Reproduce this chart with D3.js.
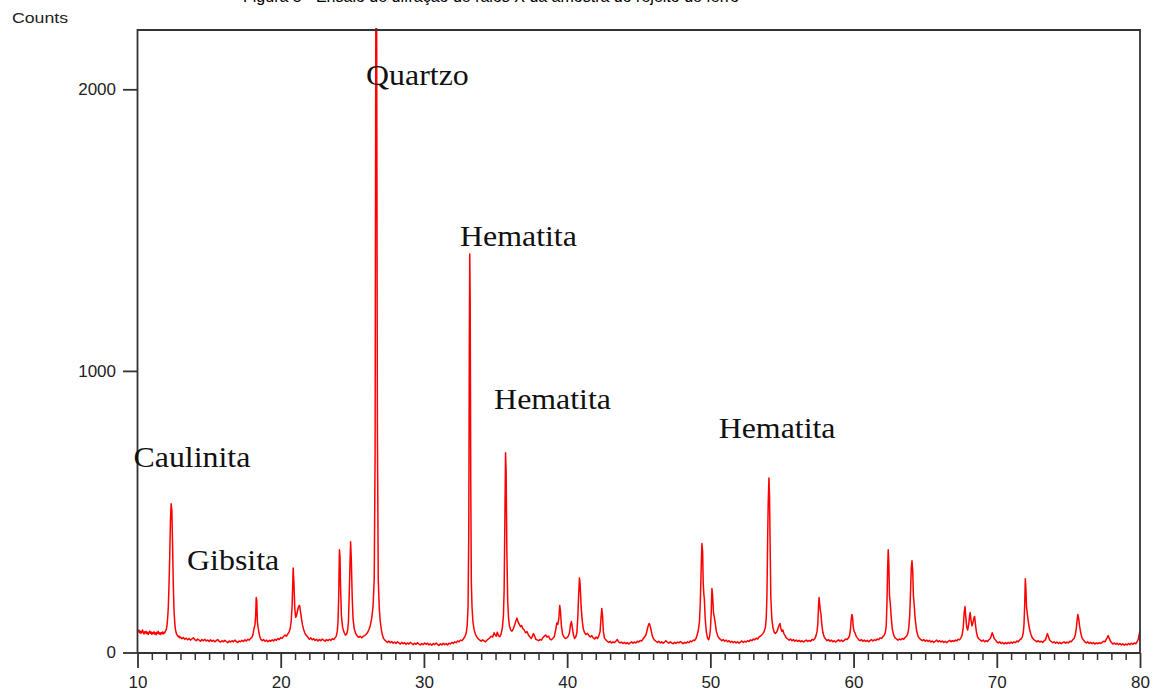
<!DOCTYPE html>
<html><head><meta charset="utf-8">
<script src="https://cdn.jsdelivr.net/npm/d3@7"></script>
<style>html,body{margin:0;padding:0;background:#fff;} svg{display:block;}</style>
</head><body>
<svg id="chart" width="1155" height="693"></svg>
<script>
// ---- data ----
const xTicks = [10, 20, 30, 40, 50, 60, 70, 80];
const yTicks = [0, 1000, 2000];
const yLabel = "Counts";
const caption = "Figura 5 - Ensaio de difração de raios X da amostra do rejeito de ferro";
const phaseLabels = ["Quartzo", "Hematita", "Hematita", "Hematita", "Caulinita", "Gibsita"];
const labelAngles = [25.96, 32.52, 34.90, 50.58, 9.72, 13.46];
const labelCounts = [2016, 1445, 865, 760, 659, 293];

// 2-theta (deg), counts
const scan = [
[10.00,82],[10.05,74],[10.10,79],[10.15,70],[10.20,76],[10.25,68],[10.30,73],[10.35,80],[10.40,71],[10.45,66],[10.50,74],[10.55,69],[10.60,75],[10.65,67],[10.70,72],[10.75,64],[10.80,70],[10.85,76],[10.90,68],[10.95,73],[11.00,65],[11.05,71],[11.10,67],[11.15,74],[11.20,66],[11.25,70],[11.30,63],[11.35,72],[11.40,68],[11.45,75],[11.50,66],[11.55,70],[11.60,64],[11.65,71],[11.70,67],[11.75,73],[11.80,66],[11.85,72],[11.90,69],[11.95,76],
[12.00,80],[12.05,92],[12.10,118],[12.15,160],[12.20,240],[12.25,340],[12.30,470],[12.35,528],[12.40,505],[12.45,380],[12.50,240],[12.55,150],[12.60,105],[12.65,82],[12.70,70],[12.75,63],[12.80,60],[12.85,56],[12.90,58],[12.95,52],
[13.0,55],[13.1,49],[13.2,53],[13.3,47],[13.4,51],[13.5,45],[13.6,50],[13.7,44],[13.8,48],[13.9,52],[14.0,46],[14.1,42],[14.2,48],[14.3,44],[14.4,40],[14.5,46],[14.6,42],[14.7,47],[14.8,41],[14.9,44],[15.0,39],[15.1,45],[15.2,40],[15.3,43],[15.4,38],[15.5,42],[15.6,46],[15.7,40],[15.8,37],[15.9,42],[16.0,38],[16.1,43],[16.2,39],[16.3,35],[16.4,41],[16.5,37],[16.6,42],[16.7,38],[16.8,44],[16.9,39],[17.0,36],[17.1,41],[17.2,38],[17.3,43],[17.4,39],[17.5,45],[17.6,41],[17.7,47],[17.8,44],[17.9,50],
[18.00,55],[18.05,62],[18.10,75],[18.15,88],[18.20,98],[18.25,130],[18.29,195],[18.33,185],[18.37,110],[18.42,90],[18.48,70],[18.55,55],[18.60,48],
[18.7,42],[18.8,46],[18.9,40],[19.0,44],[19.1,38],[19.2,43],[19.3,40],[19.4,45],[19.5,41],[19.6,47],[19.7,43],[19.8,50],[19.9,46],[20.0,53],[20.1,50],[20.2,57],[20.3,62],[20.4,58],[20.5,66],
[20.58,72],[20.66,85],[20.73,110],[20.80,170],[20.87,300],[20.92,250],[20.98,160],[21.04,125],[21.10,130],[21.18,150],[21.26,165],[21.32,167],[21.38,145],[21.45,120],[21.52,98],[21.60,82],[21.68,70],[21.77,62],[21.87,56],[21.95,50],
[22.0,47],[22.1,52],[22.2,45],[22.3,49],[22.4,43],[22.5,47],[22.6,41],[22.7,46],[22.8,42],[22.9,48],[23.0,44],[23.1,40],[23.2,46],[23.3,42],[23.4,47],[23.5,43],[23.6,49],[23.7,46],[23.8,52],
[23.88,58],[23.95,75],[24.00,110],[24.05,200],[24.10,365],[24.14,340],[24.18,230],[24.24,130],[24.32,90],[24.42,72],[24.52,62],[24.60,65],[24.67,78],[24.73,110],[24.78,200],[24.83,300],[24.88,393],[24.93,330],[24.99,200],[25.05,120],[25.13,85],[25.23,68],[25.35,58],[25.45,54],[25.55,58],[25.65,52],[25.75,57],[25.85,60],[25.95,64],[26.05,70],[26.15,80],[26.25,95],[26.35,120],[26.45,165],[26.53,260],[26.59,700],[26.64,2215],[26.70,2215],[26.75,800],[26.81,260],[26.88,160],[26.95,110],[27.03,80],[27.10,62],[27.18,50],[27.27,44],[27.36,40],
[27.45,36],[27.55,41],[27.65,35],[27.75,39],[27.85,33],[27.95,37],[28.05,32],[28.15,38],[28.25,34],[28.35,30],[28.45,36],[28.55,31],[28.65,35],[28.75,29],[28.85,34],[28.95,30],[29.05,36],[29.15,32],[29.25,28],[29.35,33],[29.45,29],[29.55,35],[29.65,30],[29.75,27],[29.85,32],[29.95,28],[30.05,34],[30.15,29],[30.25,33],[30.35,27],[30.45,31],[30.55,26],[30.65,32],[30.75,28],[30.85,34],[30.95,29],[31.05,25],[31.15,31],[31.25,27],[31.35,33],[31.45,28],[31.55,32],[31.65,27],[31.75,33],[31.85,30],[31.95,36],[32.05,32],[32.15,38],[32.25,35],[32.35,41],[32.45,38],[32.55,44],[32.65,42],
[32.75,48],[32.85,55],[32.95,68],[33.02,95],[33.08,160],[33.13,420],[33.17,1100],[33.20,1415],[33.23,1250],[33.27,600],[33.31,250],[33.36,160],[33.42,110],[33.50,82],[33.60,64],[33.70,55],[33.80,48],[33.90,44],[34.00,40],[34.10,45],[34.20,41],[34.30,38],[34.40,44],[34.50,48],[34.60,52],[34.70,58],[34.80,55],[34.90,70],[34.98,62],[35.05,58],[35.12,72],[35.20,60],[35.30,56],[35.40,68],[35.48,90],[35.55,130],[35.60,220],[35.65,460],[35.70,709],[35.74,640],[35.79,360],[35.85,180],[35.91,120],[35.98,92],[36.06,80],[36.15,76],[36.25,85],[36.35,100],[36.42,112],[36.50,122],[36.58,108],[36.66,100],[36.74,92],[36.82,96],[36.90,85],[37.00,80],[37.10,70],[37.20,74],[37.30,62],[37.40,55],[37.50,50],[37.58,58],[37.65,67],[37.72,60],[37.80,48],[37.90,45],[38.00,42],[38.10,46],[38.20,44],[38.30,52],[38.40,58],[38.50,62],[38.60,55],[38.70,58],[38.80,48],[38.90,45],[39.00,50],[39.10,56],[39.20,80],[39.28,105],[39.35,100],[39.42,120],[39.48,167],[39.53,150],[39.60,95],[39.68,65],[39.78,55],[39.88,50],[39.98,52],[40.08,58],[40.16,70],[40.24,100],[40.30,110],[40.36,90],[40.44,62],[40.52,50],[40.60,55],[40.68,70],[40.74,120],[40.80,200],[40.86,265],[40.91,240],[40.97,170],[41.04,120],[41.12,85],[41.22,70],[41.32,64],[41.42,68],[41.52,60],[41.62,55],[41.72,60],[41.82,52],[41.92,48],[42.02,55],[42.12,50],[42.22,60],[42.30,75],[42.36,120],[42.42,156],[42.47,130],[42.53,75],[42.60,52],[42.70,45],[42.80,40],
[42.9,36],[43.0,40],[43.1,34],[43.2,38],[43.3,35],[43.4,40],[43.5,46],[43.6,38],[43.7,34],[43.8,37],[43.9,32],[44.0,36],[44.1,31],[44.2,35],[44.3,30],[44.4,34],[44.5,38],[44.6,33],[44.7,37],[44.8,34],[44.9,40],[45.0,37],[45.1,43],[45.2,41],[45.3,48],[45.4,55],[45.5,62],[45.58,78],[45.66,95],[45.72,103],[45.78,98],[45.86,80],[45.94,60],[46.02,50],[46.10,44],[46.2,40],
[46.3,36],[46.4,40],[46.5,34],[46.6,38],[46.7,33],[46.8,37],[46.9,42],[47.0,36],[47.1,33],[47.2,38],[47.3,34],[47.4,31],[47.5,36],[47.6,32],[47.7,37],[47.8,34],[47.9,39],[48.0,35],[48.1,31],[48.2,36],[48.3,33],[48.4,38],[48.5,35],[48.6,41],[48.7,38],[48.8,44],[48.9,42],[49.0,50],
[49.08,62],[49.16,80],[49.24,110],[49.30,180],[49.36,300],[49.41,387],[49.46,360],[49.50,250],[49.54,210],[49.58,190],[49.64,120],[49.72,72],[49.80,52],[49.88,45],[49.94,55],[50.00,80],[50.06,140],[50.11,227],[50.16,200],[50.22,140],[50.28,125],[50.34,105],[50.42,75],[50.52,58],[50.62,50],[50.72,46],
[50.8,42],[50.9,46],[51.0,40],[51.1,44],[51.2,38],[51.3,42],[51.4,36],[51.5,40],[51.6,35],[51.7,39],[51.8,34],[51.9,38],[52.0,33],[52.1,37],[52.2,41],[52.3,36],[52.4,40],[52.5,37],[52.6,42],[52.7,39],[52.8,45],[52.9,42],[53.0,48],[53.1,45],[53.2,51],[53.3,48],[53.4,55],[53.5,58],[53.6,63],
[53.68,68],[53.76,75],[53.84,89],[53.90,120],[53.95,200],[54.00,400],[54.04,532],[54.09,620],[54.13,560],[54.17,400],[54.22,200],[54.29,120],[54.37,88],[54.46,72],[54.54,68],[54.62,72],[54.70,82],[54.78,95],[54.86,103],[54.92,85],[55.00,75],[55.06,80],[55.14,66],[55.22,60],[55.30,52],
[55.4,48],[55.5,44],[55.6,48],[55.7,42],[55.8,46],[55.9,40],[56.0,44],[56.1,39],[56.2,43],[56.3,38],[56.4,42],[56.5,37],[56.6,41],[56.7,44],[56.8,39],[56.9,43],[57.0,40],[57.1,46],[57.2,44],[57.3,50],
[57.38,60],[57.45,75],[57.50,100],[57.55,160],[57.59,195],[57.63,175],[57.68,150],[57.72,138],[57.78,100],[57.86,70],[57.95,55],[58.05,48],
[58.15,42],[58.25,46],[58.35,40],[58.45,44],[58.55,38],[58.65,42],[58.75,37],[58.85,41],[58.95,45],[59.05,40],[59.15,44],[59.25,39],[59.35,43],[59.45,48],[59.55,46],[59.65,52],
[59.72,60],[59.78,80],[59.83,115],[59.88,135],[59.93,125],[59.98,90],[60.04,75],[60.10,70],[60.18,58],[60.26,52],[60.35,46],
[60.45,42],[60.55,46],[60.65,40],[60.75,44],[60.85,39],[60.95,43],[61.05,38],[61.15,42],[61.25,46],[61.35,41],[61.45,45],[61.55,43],[61.65,48],[61.75,45],[61.85,52],[61.95,50],[62.05,56],[62.15,62],
[62.22,72],[62.28,95],[62.33,170],[62.38,300],[62.42,365],[62.46,320],[62.51,200],[62.56,177],[62.62,130],[62.70,85],[62.80,62],[62.90,52],[63.00,48],
[63.1,44],[63.2,48],[63.3,45],[63.4,50],[63.5,47],[63.6,53],[63.7,58],
[63.78,66],[63.85,85],[63.92,130],[63.98,220],[64.03,300],[64.08,326],[64.13,290],[64.18,200],[64.22,177],[64.30,120],[64.40,78],[64.50,58],[64.60,50],
[64.7,46],[64.8,42],[64.9,46],[65.0,40],[65.1,44],[65.2,39],[65.3,43],[65.4,37],[65.5,41],[65.6,36],[65.7,40],[65.8,44],[65.9,38],[66.0,42],[66.1,37],[66.2,41],[66.3,36],[66.4,40],[66.5,35],[66.6,39],[66.7,43],[66.8,38],[66.9,42],[67.0,39],[67.1,44],[67.2,41],[67.3,47],[67.4,45],[67.5,52],
[67.58,62],[67.66,90],[67.72,140],[67.78,163],[67.83,130],[67.90,90],[67.97,80],[68.04,100],[68.10,130],[68.14,142],[68.20,115],[68.27,95],[68.33,105],[68.40,122],[68.45,128],[68.51,100],[68.58,72],[68.66,55],[68.76,48],[68.86,44],
[68.95,40],[69.05,44],[69.15,38],[69.25,42],[69.35,39],[69.45,45],[69.55,50],[69.62,60],[69.68,70],[69.74,62],[69.82,50],[69.92,44],
[70.0,38],[70.1,34],[70.2,38],[70.3,32],[70.4,36],[70.5,30],[70.6,35],[70.7,31],[70.8,36],[70.9,32],[71.0,37],[71.1,33],[71.2,38],[71.3,35],[71.4,41],[71.5,38],[71.6,45],[71.7,48],
[71.78,55],[71.85,70],[71.90,100],[71.95,170],[71.99,262],[72.03,230],[72.08,160],[72.13,138],[72.20,110],[72.28,85],[72.38,65],[72.48,52],[72.58,46],
[72.7,42],[72.8,38],[72.9,42],[73.0,37],[73.1,40],[73.2,36],[73.3,41],[73.4,45],[73.46,55],[73.53,67],[73.60,58],[73.68,45],[73.78,40],
[73.9,35],[74.0,38],[74.1,33],[74.2,37],[74.3,32],[74.4,36],[74.5,31],[74.6,35],[74.7,38],[74.8,33],[74.9,37],[75.0,34],[75.1,40],[75.2,38],[75.3,45],[75.4,50],
[75.48,62],[75.55,85],[75.61,115],[75.66,135],[75.72,120],[75.78,95],[75.86,70],[75.95,52],[76.05,44],
[76.15,38],[76.25,34],[76.35,38],[76.45,32],[76.55,36],[76.65,31],[76.75,35],[76.85,30],[76.95,34],[77.05,31],[77.15,35],[77.25,32],[77.35,36],[77.45,40],[77.55,38],
[77.62,45],[77.70,52],[77.78,60],[77.85,50],[77.94,40],[78.04,34],
[78.1,30],[78.2,34],[78.3,29],[78.4,33],[78.5,28],[78.6,32],[78.7,27],[78.8,31],[78.9,26],[79.0,30],[79.1,27],[79.2,32],[79.3,28],[79.4,33],[79.5,29],[79.6,34],[79.7,31],[79.8,38],[79.88,48],[79.95,65],[80.0,78]
];

// ---- drawing ----
const svg = d3.select("#chart");
svg.append("rect").attr("width",1155).attr("height",693).attr("fill","#fff");

const plotLeft = 137.5, plotRight = 1140, plotTop = 30, plotBottom = 652.5;
const x = d3.scaleLinear().domain([10, 80]).range([plotLeft, plotRight]);
const y = d3.scaleLinear().domain([0, 2000]).range([plotBottom, 89.3]);

const axisColor = "#333";
const sans = "Arial, 'Liberation Sans', Helvetica, sans-serif";
const serif = "'Times New Roman', 'Liberation Serif', Times, serif";

// caption (cut off at top of the page)
svg.append("text").attr("x", 243).attr("y", 1.5)
  .attr("font-family", sans).attr("font-size", 16).attr("fill", "#000")
  .text(caption);

// y label
svg.append("text").attr("transform", "translate(12,22.5) scale(1.18,1)")
  .attr("font-family", sans).attr("font-size", 15).attr("fill", "#222")
  .text(yLabel);

// data line
svg.append("clipPath").attr("id","clip").append("rect")
  .attr("x", plotLeft).attr("y", 26).attr("width", plotRight-plotLeft).attr("height", plotBottom-26+1);
const line = d3.line().x(d => x(d[0])).y(d => y(d[1]));
svg.append("path").datum(scan)
  .attr("clip-path","url(#clip)")
  .attr("d", line).attr("fill","none")
  .attr("stroke","#ff0000").attr("stroke-width",1.5).attr("stroke-linejoin","round");

// frame
svg.append("path")
  .attr("d", `M${plotLeft},${plotBottom+0.5}V${plotTop}H${plotRight}V${plotBottom+0.5}H${plotLeft}`)
  .attr("fill","none").attr("stroke",axisColor).attr("stroke-width",1.8);

// x minor ticks
const minor = d3.range(10, 81, 1).filter(v => !xTicks.includes(v));
const gxm = svg.append("g").attr("transform", `translate(0,${plotBottom+0.5})`)
  .call(d3.axisBottom(x).tickValues(minor).tickSize(7).tickSizeOuter(0).tickFormat(""));
gxm.select(".domain").remove();
gxm.selectAll("line").attr("stroke", axisColor).attr("stroke-width", 1.5);

// x major ticks
const gx = svg.append("g").attr("transform", `translate(0,${plotBottom+0.5})`)
  .call(d3.axisBottom(x).tickValues(xTicks).tickSize(15).tickSizeOuter(0).tickPadding(8).tickFormat(d3.format("d")));
gx.select(".domain").remove();
gx.selectAll("line").attr("stroke", axisColor).attr("stroke-width", 1.8);
gx.selectAll("text").attr("font-family", sans).attr("font-size", 17).attr("fill", "#222");

// y ticks
const gy = svg.append("g").attr("transform", `translate(${plotLeft},0)`)
  .call(d3.axisLeft(y).tickValues(yTicks).tickSize(14.5).tickSizeOuter(0).tickPadding(7).tickFormat(d3.format("d")));
gy.select(".domain").remove();
gy.selectAll("line").attr("stroke", axisColor).attr("stroke-width", 1.8);
gy.selectAll("text").attr("font-family", sans).attr("font-size", 17).attr("fill", "#222");

// phase labels
phaseLabels.forEach((t, i) => {
  svg.append("text")
    .attr("transform", `translate(${x(labelAngles[i])},${y(labelCounts[i])}) scale(1.1,1)`)
    .attr("font-family", serif).attr("font-size", 29).attr("fill", "#111")
    .text(t);
});
</script>
</body></html>
